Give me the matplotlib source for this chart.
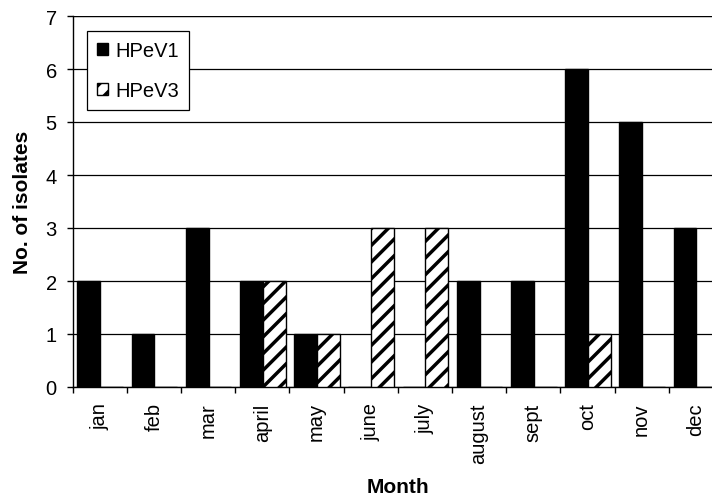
import matplotlib
matplotlib.use("Agg")
import matplotlib.pyplot as plt
import numpy as np

months = ["jan", "feb", "mar", "april", "may", "june", "july", "august", "sept", "oct", "nov", "dec"]
hpev1 = [2, 1, 3, 2, 1, 0, 0, 2, 2, 6, 5, 3]
hpev3 = [0, 0, 0, 2, 1, 3, 3, 0, 0, 1, 0, 0]
yticks = [0, 1, 2, 3, 4, 5, 6, 7]

plt.rcParams['font.family'] = ['Liberation Sans', 'DejaVu Sans']
plt.rcParams['hatch.linewidth'] = 2.5

fig = plt.figure(figsize=(7.12, 5.02), dpi=100)
W, H = 712, 502
ax = fig.add_axes([72.5 / W, 114 / H, 650.5 / W, 371 / H])

x = np.arange(len(months))
bw = 0.42
ax.bar(x - bw / 2 + 0.01, hpev1, width=bw, color='black', edgecolor='black', linewidth=1, label='HPeV1', zorder=3)
ax.bar(x + bw / 2 + 0.01, hpev3, width=bw, color='white', edgecolor='black', linewidth=1, hatch='//', label='HPeV3', zorder=3)

ax.set_xlim(-0.5, len(months) - 0.5)
ax.set_ylim(0, 7)
ax.set_yticks(yticks)
ax.set_yticklabels([str(v) for v in yticks], fontsize=14.5)
ax.set_xticks(x)
ax.set_xticklabels(months, rotation=90, fontsize=14.5)
ax.set_xticks(np.arange(-0.5, len(months), 1), minor=True)
ax.tick_params(axis='x', which='major', length=0, pad=11)
ax.tick_params(axis='x', which='minor', length=4.3, width=1, direction='out')
ax.tick_params(axis='y', which='major', length=4.3, width=1, direction='out', pad=7)

ax.yaxis.grid(True, color='black', linewidth=0.9)
ax.set_axisbelow(True)
for s in ['top', 'right']:
    ax.spines[s].set_visible(False)
ax.spines['left'].set_linewidth(1)
ax.spines['bottom'].set_linewidth(1)
ax.axhline(7, color='black', linewidth=1.6, zorder=2)

ax.set_ylabel('No. of isolates', fontsize=15, fontweight='bold')
ax.yaxis.set_label_coords(-0.063, 0.50)
ax.set_xlabel('Month', fontsize=15, fontweight='bold')
ax.xaxis.set_label_coords(0.501, -0.243)

leg = ax.legend(loc='upper left', bbox_to_anchor=(0.0218, 0.960), fontsize=14.5,
                frameon=True, fancybox=False, shadow=False, framealpha=1,
                edgecolor='black', handlelength=0.55, handleheight=0.55,
                handletextpad=0.35, labelspacing=1.05, borderpad=0.5, borderaxespad=0)
leg.get_frame().set_linewidth(0.9)

fig.savefig('out.png', dpi=100)
